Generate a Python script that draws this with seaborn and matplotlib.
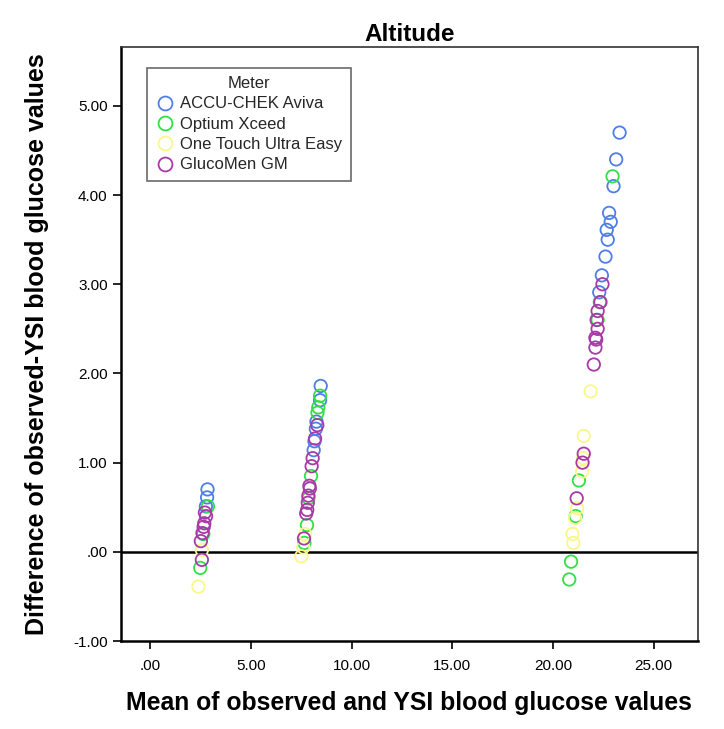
import matplotlib
matplotlib.use("Agg")
import matplotlib.pyplot as plt
import seaborn as sns
import pandas as pd
from matplotlib.lines import Line2D
from matplotlib.ticker import FuncFormatter

meters = ["ACCU-CHEK Aviva", "Optium Xceed", "One Touch Ultra Easy", "GlucoMen GM"]
colors = ["#4f7ee6", "#2fe046", "#f8f88a", "#a83aa8"]

accu_x = [2.85, 2.83, 2.77, 8.47, 8.44, 8.26, 8.23, 8.16, 8.12,
          23.31, 23.14, 23.01, 22.79, 22.87, 22.67, 22.72, 22.61, 22.43, 22.30]
accu_y = [0.70, 0.61, 0.51, 1.86, 1.70, 1.46, 1.38, 1.24, 1.14,
          4.70, 4.40, 4.10, 3.80, 3.70, 3.61, 3.50, 3.31, 3.10, 2.91]

opt_x = [2.87, 2.64, 2.49, 8.44, 8.35, 8.31, 7.99, 7.86, 7.79, 7.66,
         22.96, 22.33, 22.22, 21.29, 21.13, 20.90, 20.81]
opt_y = [0.51, 0.20, -0.18, 1.75, 1.62, 1.56, 0.85, 0.60, 0.30, 0.10,
         4.21, 2.80, 2.60, 0.80, 0.40, -0.11, -0.31]

one_x = [2.40, 2.57, 7.51, 7.70, 7.60,
         21.87, 21.53, 21.50, 21.45, 21.20, 21.10, 20.97, 21.01]
one_y = [-0.39, 0.02, -0.05, 0.20, 0.05,
         1.80, 1.30, 1.05, 0.90, 0.49, 0.38, 0.20, 0.10]

glu_x = [2.78, 2.72, 2.69, 2.66, 2.60, 2.52, 2.57,
         8.30, 8.19, 8.07, 8.02, 7.91, 7.93, 7.86, 7.83, 7.80, 7.75, 7.64,
         22.46, 22.36, 22.22, 22.17, 22.22, 22.11, 22.15, 22.11, 22.03, 21.53, 21.47, 21.18]
glu_y = [0.40, 0.44, 0.32, 0.28, 0.21, 0.12, -0.09,
         1.42, 1.27, 1.05, 0.96, 0.74, 0.71, 0.63, 0.55, 0.47, 0.43, 0.15,
         3.00, 2.80, 2.70, 2.60, 2.50, 2.40, 2.38, 2.29, 2.10, 1.10, 1.00, 0.60]

series = [(accu_x, accu_y), (opt_x, opt_y), (one_x, one_y), (glu_x, glu_y)]

sns.set_theme(style="white")
plt.rcParams["font.family"] = ["Liberation Sans", "DejaVu Sans"]

fig = plt.figure(figsize=(7.24, 7.29), dpi=100)
ax = fig.add_axes([0.167, 0.1207, 0.797, 0.8148])

for name, col, (xs, ys) in zip(meters, colors, series):
    df = pd.DataFrame({"x": xs, "y": ys})
    sns.scatterplot(data=df, x="x", y="y", ax=ax, color=col, s=80, legend=False)
    coll = ax.collections[-1]
    coll.set_facecolor("none")
    coll.set_edgecolor(col)
    coll.set_linewidth(1.3)

ax.axhline(0, color="black", lw=1.8, zorder=0)

ax.set_xlim(-1.45, 27.2)
ax.set_ylim(-1.0, 5.66)
ax.set_xticks([0, 5, 10, 15, 20, 25])
ax.set_yticks([-1, 0, 1, 2, 3, 4, 5])

def fmt(v, pos):
    s = f"{v:.2f}"
    if s.startswith("0"):
        s = s[1:]
    return s

ax.xaxis.set_major_formatter(FuncFormatter(fmt))
ax.yaxis.set_major_formatter(FuncFormatter(fmt))
ax.tick_params(axis="both", which="major", direction="out", length=6, width=1.2,
               labelsize=11, color="black", labelcolor="black", bottom=True, left=True)
ax.tick_params(axis="x", pad=7)
for side in ["left", "bottom"]:
    ax.spines[side].set_color("black")
    ax.spines[side].set_linewidth(1.8)
for side in ["top", "right"]:
    ax.spines[side].set_color("#333333")
    ax.spines[side].set_linewidth(1.2)

ax.set_xlabel("Mean of observed and YSI blood glucose values", fontsize=17.8,
              fontweight="bold", labelpad=13, color="black")
ax.set_ylabel("Difference of observed-YSI blood glucose values", fontsize=18.0,
              fontweight="bold", color="black")
ax.yaxis.set_label_coords(-0.1246, 0.5)
ax.set_title("Altitude", fontsize=17.5, fontweight="bold", pad=4, color="black")

handles = [Line2D([], [], marker="o", linestyle="none", markerfacecolor="none",
                  markeredgecolor=c, markersize=10, markeredgewidth=1.3) for c in colors]
leg = ax.legend(handles, meters, title="Meter", loc="upper left",
                bbox_to_anchor=(0.045, 0.965), fontsize=12, title_fontsize=12,
                frameon=True, fancybox=False, handletextpad=0.3, borderpad=0.5,
                labelspacing=0.32, handlelength=1.2, borderaxespad=0)
leg.get_frame().set_edgecolor("#444444")
leg.get_frame().set_linewidth(1.2)

fig.savefig("out.png", dpi=100)
